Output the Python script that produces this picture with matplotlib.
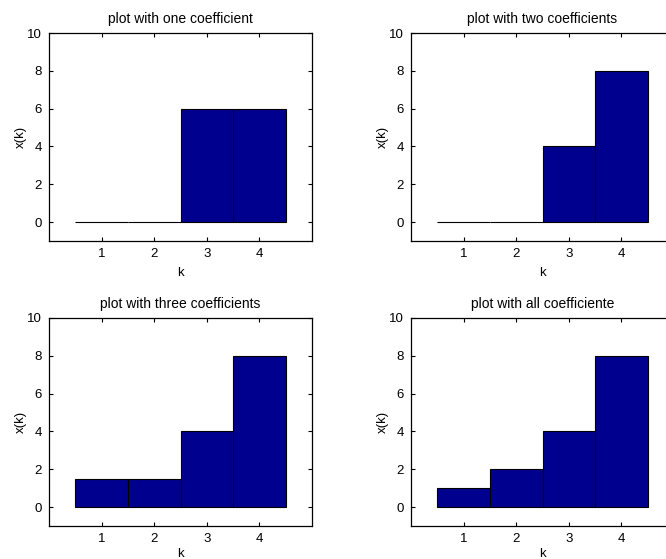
import matplotlib
matplotlib.use("Agg")
import matplotlib.pyplot as plt

plt.rcParams["font.family"] = ["Liberation Sans", "DejaVu Sans"]

k = [1, 2, 3, 4]
titles = [
    "plot with one coefficient",
    "plot with two coefficients",
    "plot with three coefficients",
    "plot with all coefficiente",
]
one_coef = [0, 0, 6, 6]
two_coef = [0, 0, 4, 8]
three_coef = [1.5, 1.5, 4, 8]
all_coef = [1, 2, 4, 8]
series = [one_coef, two_coef, three_coef, all_coef]

W, H = 666, 559
fig = plt.figure(figsize=(W / 100, H / 100), dpi=100)

# axes boxes in pixels: left, top, width, height
boxes = [(49, 33), (411, 33), (49, 318), (411, 318)]
aw, ah = 263, 208

for (x0, y0), title, vals in zip(boxes, titles, series):
    ax = fig.add_axes([x0 / W, 1 - (y0 + ah) / H, aw / W, ah / H])
    ax.bar(k, vals, width=1.0, color="#00008f", edgecolor="black", linewidth=0.8)
    ax.set_xlim(0, 5)
    ax.set_ylim(-1, 10)
    ax.set_xticks(k)
    ax.set_yticks([0, 2, 4, 6, 8, 10])
    ax.tick_params(direction="in", length=3, width=0.8, top=True, right=True,
                   labelsize=9.5, colors="black", pad=5)
    for sp in ax.spines.values():
        sp.set_linewidth(0.9)
    ax.set_title(title, fontsize=10, pad=7)
    ax.set_xlabel("k", fontsize=9.5, labelpad=5 if y0 < 100 else 2)
    ax.set_ylabel("x(k)", fontsize=9.5, labelpad=0)

fig.savefig("out.png", dpi=100)
